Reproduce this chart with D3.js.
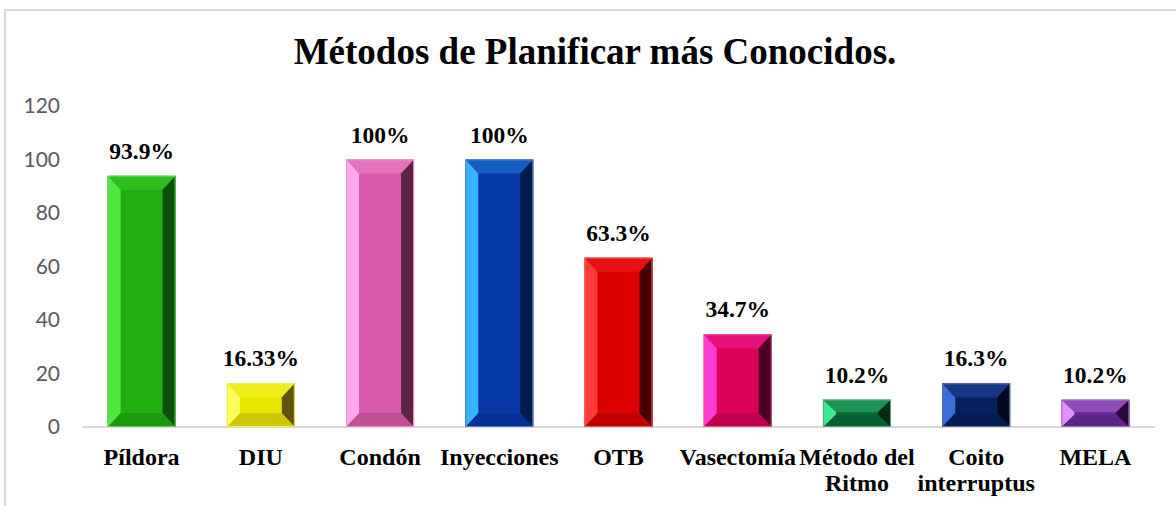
<!DOCTYPE html>
<html>
<head>
<meta charset="utf-8">
<script src="https://cdn.jsdelivr.net/npm/d3@7"></script>
<style>
  body { margin: 0; background: #fff; }
  svg { display: block; }
</style>
</head>
<body>
<div class="container"></div>
<script>
// data
const categories = ['Píldora', 'DIU', 'Condón', 'Inyecciones', 'OTB', 'Vasectomía', 'Método del\nRitmo', 'Coito\ninterruptus', 'MELA'];
const values = [93.9, 16.33, 100, 100, 63.3, 34.7, 10.2, 16.3, 10.2];
const valueLabels = ['93.9%', '16.33%', '100%', '100%', '63.3%', '34.7%', '10.2%', '16.3%', '10.2%'];
const yTicks = [0, 20, 40, 60, 80, 100, 120];

// bar colours: face, light left edge, dark right edge
const faceColors = ['#20ad10', '#e8e400', '#d95aa8', '#0638a8', '#dc0000', '#dc0058', '#0a6e38', '#06205e', '#6a2c98'];
const lightColors = ['#4ee83c', '#ffff5a', '#ffaaee', '#38b4ff', '#ff3a3a', '#ff38d8', '#3ee892', '#3a6ed8', '#e290ff'];
const darkColors = ['#0a5006', '#5e5400', '#5a2446', '#021c4c', '#480000', '#4a0022', '#022c14', '#010a22', '#28083c'];

const W = 1176, H = 506;
const margin = { top: 106, right: 21, bottom: 79, left: 82 };
const serif = '"Liberation Serif", "Times New Roman", serif';

const svg = d3.select('.container')
    .append('svg')
    .attr('width', W)
    .attr('height', H);

// chart frame
svg.append('rect')
    .attr('x', 5).attr('y', 10)
    .attr('width', W + 10).attr('height', H + 10)
    .attr('fill', 'none')
    .attr('stroke', '#d9d9d9')
    .attr('stroke-width', 2);

// title
svg.append('text')
    .attr('x', 595)
    .attr('y', 64)
    .attr('text-anchor', 'middle')
    .style('font-family', serif)
    .style('font-weight', 'bold')
    .style('font-size', '37px')
    .text('Métodos de Planificar más Conocidos.');

// scales
const x = d3.scaleBand()
    .domain(categories)
    .range([margin.left, W - margin.right])
    .paddingInner(0.43)
    .paddingOuter(0.215);

const y = d3.scaleLinear()
    .domain([0, 120])
    .range([H - margin.bottom, margin.top]);

// y axis, labels only
const yAxis = d3.axisLeft(y)
    .tickValues(yTicks)
    .tickSize(0)
    .tickPadding(0);

const gy = svg.append('g')
    .attr('transform', 'translate(60,0)')
    .call(yAxis);
gy.select('.domain').remove();
gy.selectAll('text')
    .style('font-family', 'Lato, "Open Sans", sans-serif')
    .style('font-size', '21px')
    .attr('fill', '#595959');

// baseline
svg.append('line')
    .attr('x1', margin.left).attr('x2', W - margin.right)
    .attr('y1', y(0)).attr('y2', y(0))
    .attr('stroke', '#d9d9d9')
    .attr('stroke-width', 2);

// bevelled bars
const rows = categories.map((c, i) => ({ c, v: values[i], label: valueLabels[i], i }));

const bars = svg.selectAll('g.bar')
    .data(rows)
    .enter()
    .append('g')
    .attr('class', 'bar');

bars.each(function (d) {
    const g = d3.select(this);
    const x0 = x(d.c), x1 = x(d.c) + x.bandwidth();
    const y0 = y(d.v), y1 = y(0);
    const h = y1 - y0;
    const bx = 13;
    const by = Math.min(14, h / 2.2);
    const face = faceColors[d.i], lt = lightColors[d.i], dk = darkColors[d.i];
    const pts = p => p.map(q => q.join(',')).join(' ');

    g.append('rect')
        .attr('x', x0).attr('y', y0)
        .attr('width', x1 - x0).attr('height', h)
        .attr('fill', face);
    // top
    g.append('polygon')
        .attr('points', pts([[x0, y0], [x1, y0], [x1 - bx, y0 + by], [x0 + bx, y0 + by]]))
        .attr('fill', d3.interpolateRgb(face, lt)(0.3));
    // bottom
    g.append('polygon')
        .attr('points', pts([[x0, y1], [x1, y1], [x1 - bx, y1 - by], [x0 + bx, y1 - by]]))
        .attr('fill', d3.interpolateRgb(face, dk)(0.2));
    // left
    g.append('polygon')
        .attr('points', pts([[x0, y0], [x0 + bx, y0 + by], [x0 + bx, y1 - by], [x0, y1]]))
        .attr('fill', lt);
    // right
    g.append('polygon')
        .attr('points', pts([[x1, y0], [x1 - bx, y0 + by], [x1 - bx, y1 - by], [x1, y1]]))
        .attr('fill', dk);
    // thin light rim
    g.append('rect')
        .attr('x', x0 + 0.5).attr('y', y0 + 0.5)
        .attr('width', x1 - x0 - 1).attr('height', h - 1)
        .attr('fill', 'none')
        .attr('stroke', d3.interpolateRgb(face, '#ffffff')(0.35))
        .attr('stroke-width', 1);
});

// value labels
svg.selectAll('text.value')
    .data(rows)
    .enter()
    .append('text')
    .attr('class', 'value')
    .attr('x', d => x(d.c) + x.bandwidth() / 2)
    .attr('y', d => y(d.v) - 17)
    .attr('text-anchor', 'middle')
    .style('font-family', serif)
    .style('font-weight', 'bold')
    .style('font-size', '23.5px')
    .text(d => d.label);

// category labels
const cat = svg.selectAll('text.cat')
    .data(rows)
    .enter()
    .append('text')
    .attr('class', 'cat')
    .attr('text-anchor', 'middle')
    .style('font-family', serif)
    .style('font-weight', 'bold')
    .style('font-size', '24px');

cat.selectAll('tspan')
    .data(d => d.c.split('\n').map(t => ({ t, cx: x(d.c) + x.bandwidth() / 2 })))
    .enter()
    .append('tspan')
    .attr('x', t => t.cx)
    .attr('y', (t, j) => 465 + j * 26)
    .text(t => t.t);
</script>
</body>
</html>
